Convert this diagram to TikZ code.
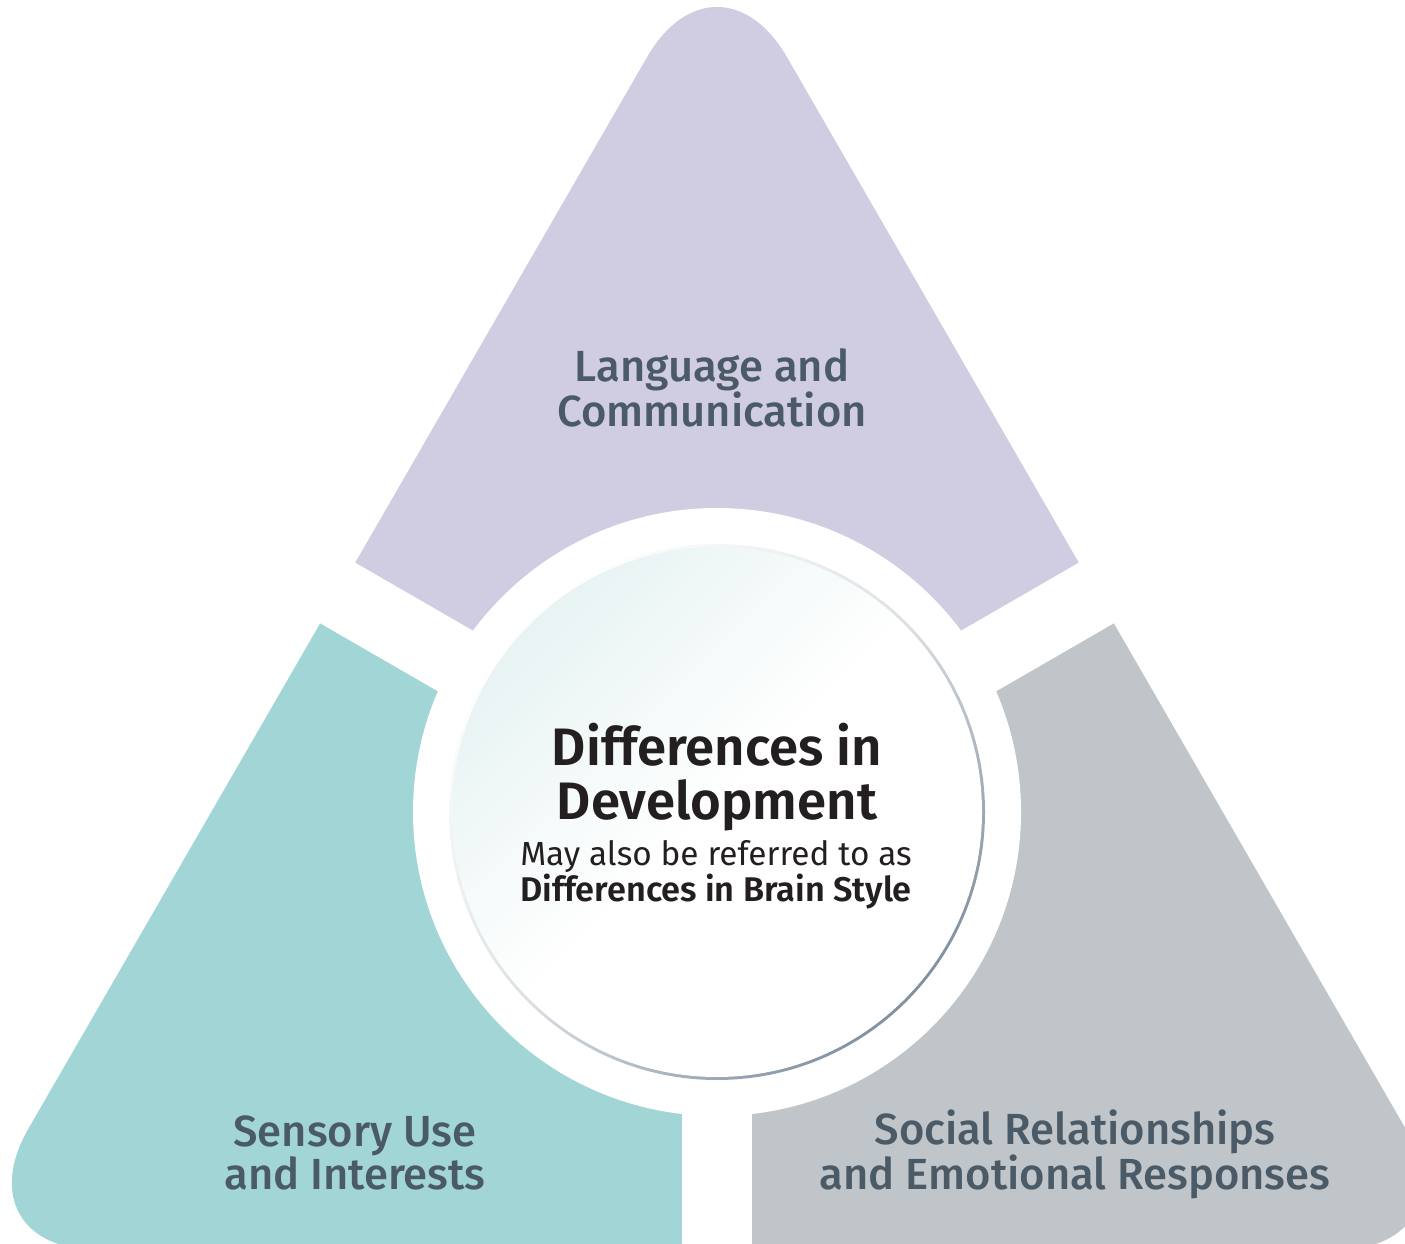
\documentclass[tikz,border=0pt]{standalone}
\usepackage{fontspec}
\setmainfont{Fira Sans}
\IfFontExistsTF{Fira Sans Medium}{\newfontfamily\medfont{Fira Sans Medium}}{\newfontfamily\medfont{Fira Sans}}
\IfFontExistsTF{Fira Sans SemiBold}{\newfontfamily\semifont{Fira Sans SemiBold}}{\newfontfamily\semifont{Fira Sans}[BoldFont={*},AutoFakeBold=1.5]}
\definecolor{lavfill}{HTML}{D0CCE1}
\definecolor{tealfill}{HTML}{A2D5D6}
\definecolor{greyfill}{HTML}{C0C5C9}
\definecolor{labeltext}{HTML}{4A5A66}
\definecolor{titletext}{HTML}{231F20}
\definecolor{ringdark}{HTML}{8291A0}
\definecolor{innertint}{HTML}{E8F3F3}
\tikzset{
  sectorlabel/.style={text=labeltext, align=center, inner sep=0pt,
    font=\medfont\fontsize{24.8pt}{25pt}\selectfont},
  titletxt/.style={text=titletext, align=center, inner sep=0pt,
    font=\semifont\fontsize{30pt}{31.3pt}\selectfont},
  subtxt/.style={text=titletext, align=center, inner sep=0pt,
    font=\fontsize{19pt}{20.5pt}\selectfont},
  gapstrip/.style={white, line width=1.4cm},
}
\newcommand{\bigtri}{(717,-7) -- (1475.6,-7) -- (717,1307) -- (-41.6,-7) -- cycle}
\begin{document}
\begin{tikzpicture}[x=0.02cm,y=0.02cm]
\useasboundingbox (0,0) rectangle (1405,1243);
\clip (0,0) rectangle (1405,1243);
\fill[white] (0,0) rectangle (1405,1243);
\coordinate (C) at (717,431);
% purple sector
\begin{scope}
  \clip (717,431) -- (2449,1431) -- (-1015,1431) -- cycle;
  \fill[lavfill, rounded corners=2.8cm] \bigtri;
\end{scope}
% teal sector
\begin{scope}
  \clip (717,431) -- (-1015,1431) -- (-1015,-600) -- (717,-600) -- cycle;
  \fill[tealfill, rounded corners=2.8cm] \bigtri;
\end{scope}
% grey sector
\begin{scope}
  \clip (717,431) -- (717,-600) -- (2449,-600) -- (2449,1431) -- cycle;
  \fill[greyfill, rounded corners=2.8cm] \bigtri;
\end{scope}
% gaps
\draw[gapstrip] (C) -- ++(30:1200);
\draw[gapstrip] (C) -- ++(150:1200);
\draw[gapstrip] (C) -- ++(270:1200);
\fill[white] (C) circle (304);
% centre circle
\shade[shading=axis, top color=white, bottom color=ringdark, middle color=white!72!ringdark, shading angle=45] (C) circle (268);
\shade[shading=axis, top color=innertint, bottom color=white, middle color=white, shading angle=45] (C) circle (265);
% labels
\node[sectorlabel, anchor=base] (lang) at (712,816) {Language and\\Communication};
\node[sectorlabel, anchor=base] (sens) at (355,53) {Sensory Use\\and Interests};
\node[sectorlabel, anchor=base] (soc) at (1075,53) {Social Relationships\\and Emotional Responses};
\node[titletxt, anchor=base] (title) at (717,423) {Differences in\\Development};
\node[subtxt, anchor=base] (sub) at (716,341) {May also be referred to as\\{\semifont\fontsize{19.5pt}{20.5pt}\selectfont Differences in Brain Style}};
\end{tikzpicture}
\end{document}
